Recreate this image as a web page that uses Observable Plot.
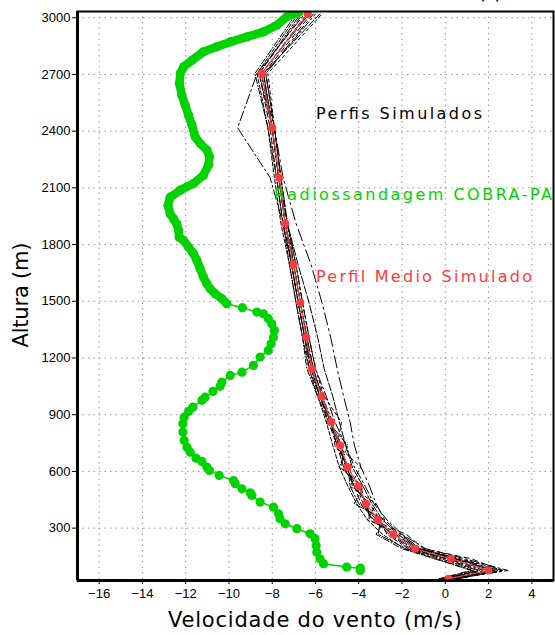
<!DOCTYPE html>
<html><head><meta charset="utf-8">
<script src="https://cdn.jsdelivr.net/npm/d3@7"></script>
<script src="https://cdn.jsdelivr.net/npm/@observablehq/plot@0.6"></script>
<style>body{margin:0;background:#fff} svg{display:block}</style>
</head><body><div id="chart"></div>
<script>
// Model levels (m)
const levels = [32, 76, 138, 191, 267, 344, 429, 521, 623, 737, 861, 997, 1143, 1310, 1493, 1692, 1912, 2154, 2418, 2705, 3020];
// Mean simulated profile (m/s)
const meanProfile = [0.14, 1.99, 0.25, -1.40, -2.40, -3.12, -3.66, -4.02, -4.51, -4.86, -5.28, -5.71, -6.17, -6.43, -6.70, -7.02, -7.40, -7.68, -8.00, -8.48, -6.36];
// Simulated members
const member1  = [0.0, 1.6, 0.0, -1.6, -2.6, -3.3, -3.9, -4.2, -4.7, -5.0, -5.4, -5.8, -6.3, -6.5, -6.8, -7.1, -7.5, -7.8, -8.1, -8.6, -6.6];
const member2  = [0.4, 2.9, 0.9, -0.9, -2.0, -2.7, -3.3, -3.7, -4.2, -4.6, -5.1, -5.5, -6.0, -6.3, -6.6, -6.9, -7.3, -7.6, -7.9, -8.3, -6.0];
const member3  = [-0.2, 1.3, -0.4, -1.9, -2.9, -3.6, -4.1, -4.5, -4.9, -5.2, -5.5, -5.9, -6.3, -6.6, -6.9, -7.2, -7.6, -7.9, -8.2, -8.7, -6.8];
const member4  = [0.6, 2.5, 0.6, -1.1, -2.1, -2.8, -3.2, -3.5, -3.9, -4.2, -4.4, -4.7, -5.0, -5.3, -5.7, -6.2, -6.9, -7.5, -7.9, -8.3, -6.1];
const member5  = [0.2, 2.0, 0.2, -1.5, -2.5, -3.2, -3.8, -4.1, -4.6, -4.9, -5.3, -5.8, -6.2, -6.5, -6.8, -7.1, -7.5, -8.1, -9.6, -8.7, -6.5];
const member6  = [0.3, 2.3, 0.5, -1.2, -2.2, -2.9, -3.4, -3.8, -4.3, -4.6, -4.9, -5.2, -5.6, -5.9, -6.3, -6.8, -7.3, -7.7, -8.0, -8.4, -5.8];
const member7  = [0.1, 1.8, 0.1, -1.7, -2.7, -3.0, -3.5, -4.3, -4.4, -5.1, -5.2, -5.7, -6.1, -6.4, -6.7, -7.0, -7.3, -7.6, -7.9, -8.5, -6.4];
const member8  = [0.5, 2.6, 1.2, -1.0, -1.8, -3.4, -3.7, -3.9, -4.8, -4.7, -5.5, -5.6, -6.2, -6.4, -6.7, -7.0, -7.4, -7.7, -8.0, -8.4, -6.2];
const member9  = [-0.1, 1.5, -0.2, -1.8, -3.1, -3.0, -4.0, -4.4, -4.5, -5.0, -5.3, -5.8, -6.2, -6.5, -6.8, -7.1, -7.4, -7.7, -8.0, -8.6, -6.7];
const member10 = [0.2, 2.2, 0.4, -1.3, -2.3, -3.5, -3.6, -4.2, -4.6, -4.8, -5.3, -5.7, -6.1, -6.4, -6.7, -7.0, -7.4, -7.7, -8.0, -8.5, -6.3];
const member11 = [0.3, 2.7, 0.7, -1.2, -2.0, -3.6, -3.2, -4.4, -3.9, -5.0, -4.8, -5.6, -6.0, -6.3, -6.6, -6.9, -7.3, -7.6, -7.9, -8.2, -5.7];
const member12 = [-0.3, 1.2, -0.5, -2.0, -3.2, -2.8, -4.2, -3.8, -4.9, -4.5, -5.4, -5.9, -6.4, -6.6, -6.9, -7.2, -7.5, -7.8, -8.2, -8.8, -6.9];
// Radiosonde COBRA-PA
const radioAlt = [76, 88, 94, 112, 138, 173, 208, 244, 270, 297, 323, 350, 376, 411, 438, 473, 487, 508, 535, 552, 579, 605, 623, 653, 670, 702, 728, 764, 808, 852, 887, 917, 940, 976, 993, 1023, 1050, 1072, 1108, 1125, 1161, 1205, 1240, 1275, 1310, 1346, 1381, 1408, 1434, 1443, 1466, 1487, 1514, 1540, 1566, 1593, 1628, 1672, 1716, 1752, 1787, 1822, 1839, 1875, 1910, 1936, 1963, 2007, 2051, 2088, 2123, 2167, 2220, 2265, 2300, 2335, 2370, 2432, 2484, 2537, 2590, 2652, 2705, 2740, 2775, 2820, 2846, 2872, 2899, 2925, 2960, 3005, 3028];
const radioSpeed = [-3.93, -3.93, -4.56, -5.63, -5.79, -5.94, -5.97, -6.02, -6.25, -6.86, -7.40, -7.64, -7.71, -7.94, -8.56, -8.94, -9.02, -9.40, -9.71, -9.79, -10.45, -10.90, -11.02, -11.25, -11.52, -11.79, -11.94, -12.07, -12.13, -12.13, -12.07, -11.87, -11.67, -11.25, -11.10, -10.74, -10.41, -10.33, -9.94, -9.40, -8.87, -8.56, -8.18, -8.05, -7.94, -7.90, -8.02, -8.18, -8.41, -8.71, -9.38, -10.10, -10.33, -10.64, -10.87, -11.02, -11.18, -11.33, -11.48, -11.64, -11.87, -12.10, -12.30, -12.33, -12.41, -12.56, -12.72, -12.82, -12.72, -12.25, -11.64, -11.18, -10.95, -10.90, -11.02, -11.33, -11.56, -11.71, -11.87, -12.02, -12.18, -12.29, -12.25, -12.10, -11.71, -11.18, -10.56, -9.94, -9.17, -8.41, -7.79, -7.33, -6.79];
const xTicks = [-16, -14, -12, -10, -8, -6, -4, -2, 0, 2, 4];
const yTicks = [300, 600, 900, 1200, 1500, 1800, 2100, 2400, 2700, 3000];

const members = [member1, member2, member3, member4, member5, member6, member7, member8, member9, member10, member11, member12];
const dashes = ["6,3", "9,3,2,3", "4,2", "12,4,2,4", "10,3,2,3", "8,2", "5,3,2,3", "5,4", "7,2,2,2", "14,4", "3,3", "6,2,1,2"];

const toRows = (vals) => vals.map((v, j) => ({x: v, y: levels[j]}));
const radio = radioAlt.map((a, i) => ({x: radioSpeed[i], y: a}));
const meanRows = toRows(meanProfile);

const green = "#00d200";
const red = "#ff3b3b";
const fmt = d => d < 0 ? "\u2212" + Math.abs(d) : String(d);

const plot = Plot.plot({
  width: 555, height: 635,
  marginLeft: 77, marginRight: 2, marginTop: 11, marginBottom: 55,
  style: {fontFamily: "'Liberation Sans', Arial, sans-serif", background: "#fff", color: "#000"},
  x: {domain: [-17, 5]},
  y: {domain: [23, 3033]},
  marks: [
    Plot.ruleX(xTicks, {stroke: "#999", strokeDasharray: "1.5,4", strokeWidth: 1}),
    Plot.ruleY(yTicks, {stroke: "#999", strokeDasharray: "1.5,4", strokeWidth: 1}),
    Plot.axisX({ticks: xTicks, tickSize: 4, tickPadding: 4, fontSize: 13, label: null, tickFormat: fmt}),
    Plot.axisY({ticks: yTicks, tickSize: 5, tickPadding: 2, fontSize: 13, label: null, tickFormat: d => String(d)}),
    ...members.map((m, i) => Plot.line(toRows(m), {x: "x", y: "y", stroke: "#000", strokeWidth: 1, strokeDasharray: dashes[i], curve: "linear", clip: true})),
    Plot.line(meanRows, {x: "x", y: "y", stroke: red, strokeWidth: 1.2, clip: true}),
    Plot.dot(meanRows, {x: "x", y: "y", r: 4, fill: red, stroke: null, clip: true}),
    Plot.line(radio, {x: "x", y: "y", stroke: green, strokeWidth: 1.5, clip: true}),
    Plot.line(radio.filter(d => d.y >= 1487), {x: "x", y: "y", stroke: green, strokeWidth: 8.5, clip: true}),
    Plot.dot(radio, {x: "x", y: "y", r: 4.6, fill: green, stroke: null, clip: true}),
    Plot.frame({stroke: "#000", strokeWidth: 2}),
    Plot.ruleX([-17], {stroke: "#000", strokeWidth: 3}),
    Plot.ruleY([23], {stroke: "#000", strokeWidth: 3})
  ]
});

const svg = d3.select(plot);
const ann = (txt, x, y, size, color, len) => {
  const t = svg.append("text").attr("x", x).attr("y", y)
    .attr("text-anchor", "start")
    .attr("font-family", "'DejaVu Sans', sans-serif").attr("font-size", size)
    .attr("fill", color).text(txt);
  if (len) t.attr("textLength", len).attr("lengthAdjust", "spacing");
  return t;
};
ann("Perfis Simulados", 316, 119, 16, "#000", 166);
ann("Radiossandagem COBRA-PA", 274, 200, 16, green, 278);
ann("Perfil Medio Simulado", 316, 282, 16, red, 216);
ann("Velocidade do vento (m/s)", 168, 627, 21, "#000", 294);
svg.append("text").attr("transform", "translate(28,295) rotate(-90)")
  .attr("text-anchor", "middle").attr("font-family", "'DejaVu Sans', sans-serif")
  .attr("font-size", 21).attr("fill", "#000").attr("textLength", 105).attr("lengthAdjust", "spacing").text("Altura (m)");
ann("(a)", 478, -1, 20, "#000", 24);

document.getElementById("chart").append(plot);
</script>
</body></html>
